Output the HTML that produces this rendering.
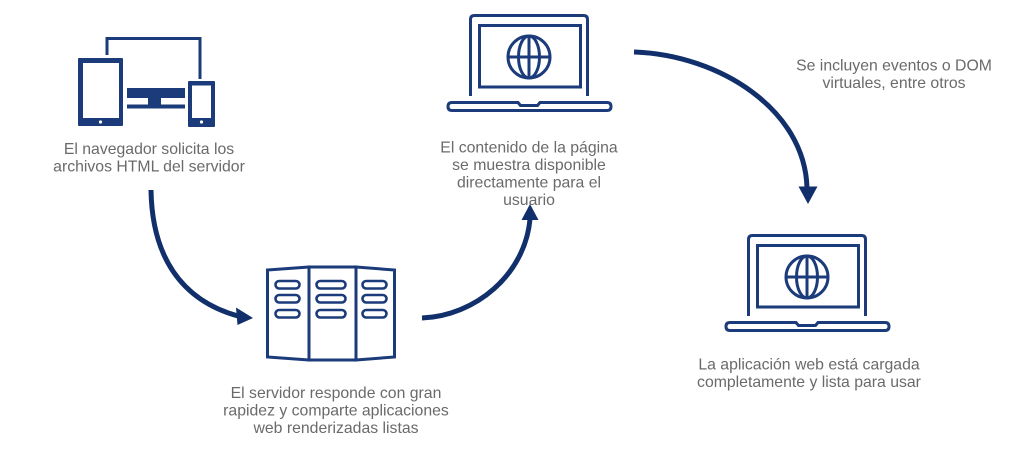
<!DOCTYPE html>
<html>
<head>
<meta charset="utf-8">
<style>
  html, body { margin: 0; padding: 0; background: #ffffff; }
  body { width: 1024px; height: 459px; overflow: hidden; position: relative; }
  svg { position: absolute; left: 0; top: 0; }
  .t { font-family: "Liberation Sans", "DejaVu Sans", sans-serif; font-size: 15.8px; fill: #6a6a6a; }
</style>
</head>
<body>
<svg width="1024" height="459" viewBox="0 0 1024 459" xmlns="http://www.w3.org/2000/svg">
  <!-- Devices icon -->
  <g fill="#1b3b7a" stroke="none">
    <path d="M107,55 V38.5 H200 V79" fill="none" stroke="#1b3b7a" stroke-width="3"/>
    <rect x="78" y="58" width="45" height="68" rx="1"/>
    <rect x="83" y="63" width="36" height="55" fill="#fff"/>
    <circle cx="100.5" cy="122" r="1.6" fill="#fff"/>
    <rect x="127" y="88" width="58" height="10"/>
    <rect x="148" y="97" width="13" height="8"/>
    <rect x="127" y="104.5" width="58" height="4"/>
    <rect x="188" y="81" width="27" height="46" rx="1"/>
    <rect x="192" y="85.5" width="19" height="32.5" fill="#fff"/>
    <circle cx="201.5" cy="122" r="1.6" fill="#fff"/>
  </g>

  <!-- Laptop template -->
  <defs>
    <g id="laptop" fill="none" stroke="#1b3b7a" stroke-width="3">
      <path d="M470.5,96 V19.5 Q470.5,15.5 474.5,15.5 H583.5 Q587.5,15.5 587.5,19.5 V96"/>
      <rect x="479.5" y="25.5" width="101" height="61.5"/>
      <circle cx="529" cy="57" r="21"/>
      <ellipse cx="529" cy="57" rx="10.5" ry="21"/>
      <line x1="508" y1="57" x2="550" y2="57"/>
      <line x1="529" y1="36" x2="529" y2="78"/>
      <path d="M452,102.5 H518 L520.5,105.5 H537.5 L540,102.5 H607 Q611,102.5 611,106.5 Q611,110.5 607,110.5 H452 Q448,110.5 448,106.5 Q448,102.5 452,102.5 Z"/>
    </g>
  </defs>
  <use href="#laptop"/>
  <use href="#laptop" transform="translate(278,220)"/>

  <!-- Server -->
  <g fill="none" stroke="#1b3b7a" stroke-width="3" stroke-linejoin="miter">
    <polygon points="267.5,270 309,267 309,360 267.5,357"/>
    <rect x="309" y="267" width="47" height="93"/>
    <polygon points="356,267 394.5,270 394.5,357 356,360"/>
    <g stroke-width="2.6">
      <rect x="275.5" y="281" width="24" height="7.5" rx="3.75"/>
      <rect x="275.5" y="295" width="24" height="7.5" rx="3.75"/>
      <rect x="275.5" y="310" width="24" height="7.5" rx="3.75"/>
      <rect x="316.5" y="281" width="29" height="7.5" rx="3.75"/>
      <rect x="316.5" y="295" width="29" height="7.5" rx="3.75"/>
      <rect x="316.5" y="310" width="29" height="7.5" rx="3.75"/>
      <rect x="362.5" y="281" width="24" height="7.5" rx="3.75"/>
      <rect x="362.5" y="295" width="24" height="7.5" rx="3.75"/>
      <rect x="362.5" y="310" width="24" height="7.5" rx="3.75"/>
    </g>
  </g>

  <!-- Arrows -->
  <g fill="none" stroke="#102f6b" stroke-width="5">
    <path d="M151,190 C152,255 180,300 238,316"/>
    <path d="M422,318 C475,316 525,275 530,219"/>
    <path d="M634,52 C720,55 805,110 807,188"/>
  </g>
  <g fill="#102f6b">
    <polygon points="253,318 236,307.5 237.5,325"/>
    <polygon points="530,204 521.5,220 538.5,220"/>
    <polygon points="808,204 798.5,186.5 817.5,186.5"/>
  </g>

  <!-- Labels -->
  <g class="t" text-anchor="middle">
    <text x="149" y="154">El navegador solicita los</text>
    <text x="149" y="171.5">archivos HTML del servidor</text>

    <text x="529" y="152.5">El contenido de la página</text>
    <text x="529" y="170">se muestra disponible</text>
    <text x="529" y="187.5">directamente para el</text>
    <text x="529" y="205">usuario</text>

    <text x="336" y="398">El servidor responde con gran</text>
    <text x="336" y="415.5">rapidez y comparte aplicaciones</text>
    <text x="336" y="433">web renderizadas listas</text>

    <text x="894" y="70.5">Se incluyen eventos o DOM</text>
    <text x="894" y="88">virtuales, entre otros</text>

    <text x="809" y="369.5">La aplicación web está cargada</text>
    <text x="809" y="387">completamente y lista para usar</text>
  </g>
</svg>
</body>
</html>
